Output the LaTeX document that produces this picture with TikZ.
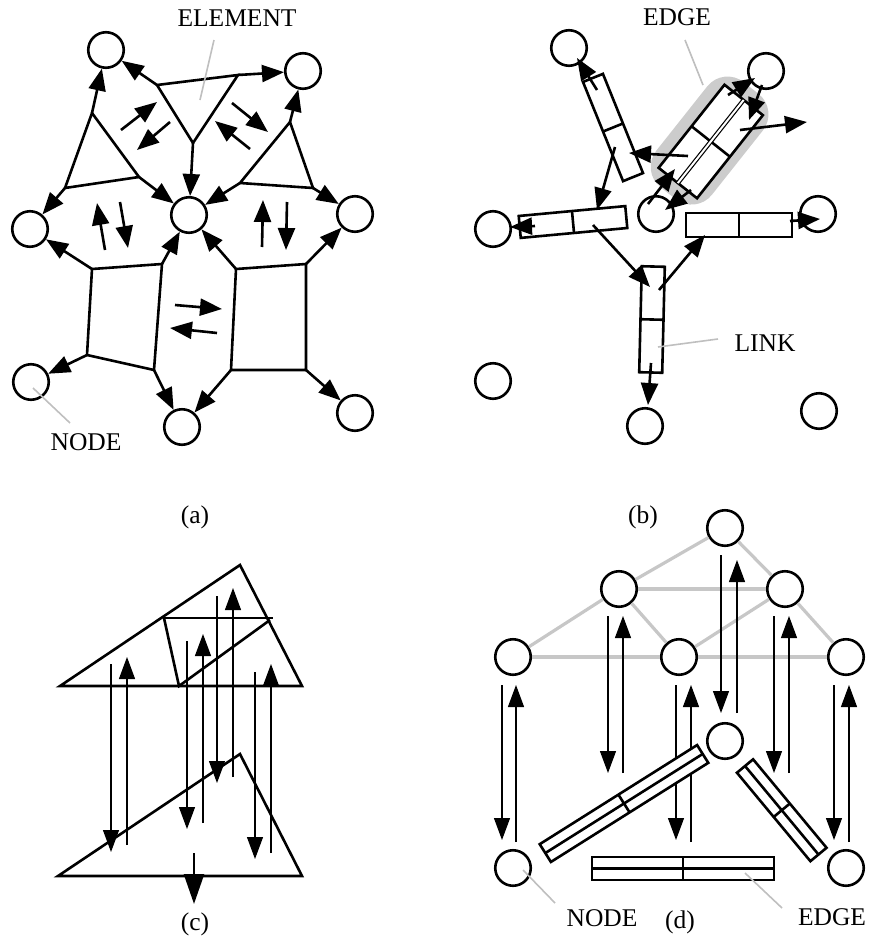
\documentclass[tikz,border=0pt]{standalone}
\usepackage{fontspec}
\setmainfont{Liberation Serif}
\usetikzlibrary{arrows.meta}
\newcommand\linkrect[5]{%
  \begin{scope}[shift={(#1,#2)},rotate=#3]
    \draw[shp,fill=white] (-#4,-#5) rectangle (#4,#5);
    \draw[shp] (0,-#5) -- (0,#5);
  \end{scope}}
\newcommand\edgerect[5]{%
  \begin{scope}[shift={(#1,#2)},rotate=#3]
    \draw[shp,fill=white] (-#4,-#5) rectangle (#4,#5);
    \draw[shp] (0,-#5) -- (0,#5);
    \draw[shp] (-#4,0) -- (#4,0);
  \end{scope}}
\begin{document}
\begin{tikzpicture}[x=1pt,y=-1pt,
  circ/.style={circle,draw,line width=2.6pt,minimum size=35.5pt,inner sep=0pt,fill=white},
  shp/.style={line width=2.6pt},
  arr/.style={line width=2.6pt,-{Triangle[length=22pt,width=17pt]}},
  tarr/.style={line width=1.2pt,-{Triangle[length=22pt,width=16pt]}},
  lead/.style={draw=black!25,line width=1.6pt},
  gline/.style={draw=black!22,line width=3.2pt},
  lbl/.style={font=\fontsize{25.5}{30}\selectfont,inner sep=0pt}]
\useasboundingbox (0,0) rectangle (877,940);

%================ (a) =================
\node[circ] (a1) at (106,50) {};
\node[circ] (a2) at (303,71) {};
\node[circ] (a3) at (30,229) {};
\node[circ] (a4) at (189,215) {};
\node[circ] (a5) at (355,214) {};
\node[circ] (a6) at (31,382) {};
\node[circ] (a7) at (182,427) {};
\node[circ] (a8) at (355,413) {};

\coordinate (t1) at (157,85);  \coordinate (t2) at (238,75);  \coordinate (t3) at (193,143);
\coordinate (l1) at (92,113);  \coordinate (l2) at (65,188);  \coordinate (l3) at (139,177);
\coordinate (r1) at (290,122); \coordinate (r2) at (240,183); \coordinate (r3) at (313,188);
\coordinate (q1) at (92,269);  \coordinate (q2) at (162,264); \coordinate (q3) at (154,370); \coordinate (q4) at (87,355);
\coordinate (p1) at (236,269); \coordinate (p2) at (306,264); \coordinate (p3) at (306,370); \coordinate (p4) at (231,370);

\draw[shp] (t1)--(t2)--(t3)--cycle;
\draw[shp] (l1)--(l2)--(l3)--cycle;
\draw[shp] (r1)--(r2)--(r3)--cycle;
\draw[shp] (q1)--(q2)--(q3)--(q4)--cycle;
\draw[shp] (p1)--(p2)--(p3)--(p4)--cycle;

\draw[arr] (t1)--(a1); \draw[arr] (t2)--(a2); \draw[arr] (t3)--(a4);
\draw[arr] (l1)--(a1); \draw[arr] (l2)--(a3); \draw[arr] (l3)--(a4);
\draw[arr] (r1)--(a2); \draw[arr] (r2)--(a4); \draw[arr] (r3)--(a5);
\draw[arr] (q1)--(a3); \draw[arr] (q2)--(a4); \draw[arr] (q4)--(a6); \draw[arr] (q3)--(a7);
\draw[arr] (p1)--(a4); \draw[arr] (p2)--(a5); \draw[arr] (p4)--(a7); \draw[arr] (p3)--(a8);

\draw[arr] (121,130)--(157,102);
\draw[arr] (170,122)--(137,150);
\draw[arr] (232,103)--(268,132);
\draw[arr] (250,149)--(215,121);
\draw[arr] (105,250)--(97,203);
\draw[arr] (120,202)--(128,248);
\draw[arr] (262,247)--(263,200);
\draw[arr] (287,202)--(286,250);
\draw[arr] (175,305)--(222,309);
\draw[arr] (217,333)--(170,328);

\node[lbl] (elem) at (237,18) {ELEMENT};
\draw[lead] (214,40)--(200,100);
\node[lbl] (nodea) at (86,442) {NODE};
\draw[lead] (33,388)--(70,423);
\node[lbl] (capa) at (195,517) {(a)};

%================ (b) =================
\node[circ] (b1) at (569,48) {};
\node[circ] (b2) at (766,71) {};
\node[circ] (b3) at (493,229) {};
\node[circ] (b4) at (656,214) {};
\node[circ] (b5) at (818,214) {};
\node[circ] (b6) at (493,381) {};
\node[circ] (b7) at (645,426) {};
\node[circ] (b8) at (819,411) {};

\begin{scope}[shift={(710.75,141.5)},rotate=51.6]
  \fill[black!20,rounded corners=26pt] (-67,-37) rectangle (67,34);
  \draw[shp,fill=white] (-53,-24.5) rectangle (53,24.5);
  \draw[shp] (0,-24.5)--(0,24.5);
  \draw[line width=1.2pt,double,double distance=2pt] (-53,0)--(53,0);
\end{scope}
\draw[lead] (685,40)--(703,85);
\node[lbl] (edgeb) at (677,17) {EDGE};

\linkrect{613}{127.5}{112}{53.5}{10.75}
\linkrect{573}{222}{5.3}{53.5}{11}
\linkrect{652}{319.5}{88.6}{53}{11.5}
\linkrect{739}{225}{0}{53}{12}

\draw[arr] (597,90)--(577,58);
\draw[arr] (615,147)--(597,210);
\draw[arr] (535,226)--(510,227);
\draw[arr] (593,225)--(650,287);
\draw[arr] (659,290)--(705,235);
\draw[arr] (651,363)--(648,405);
\draw[arr] (790,221)--(820,219);
\draw[arr] (728,95)--(755,78);
\draw[arr] (762,85)--(749,120);
\draw[arr] (740,130)--(807,122);
\draw[arr] (688,156)--(629,153);
\draw[arr] (648,204)--(675,169);
\draw[arr] (691,190)--(665,210);

\draw[lead] (658,347)--(718,339);
\node[lbl] (linkb) at (765,343) {LINK};
\node[lbl] (capb) at (643,517) {(b)};

%================ (c) =================
\draw[shp] (60,686)--(240,565)--(302,686)--cycle;
\draw[shp] (164,618)--(273,618);
\draw[shp] (164,618)--(179,686)--(270,620);
\draw[shp] (58,876)--(240,754)--(302,876)--cycle;

\draw[tarr] (111,664)--(111,852);
\draw[tarr] (187,641)--(187,829);
\draw[tarr] (217,596)--(217,783);
\draw[tarr] (255,672)--(255,859);
\draw[tarr] (127,845)--(127,657);
\draw[tarr] (203,823)--(203,634);
\draw[tarr] (233,777)--(233,588);
\draw[tarr] (271,853)--(271,664);
\draw[line width=2.8pt,-{Triangle[length=30pt,width=20pt]}] (194,853)--(194,904);
\node[lbl] (capc) at (195,924) {(c)};

%================ (d) =================
\node[circ] (d0) at (725,528) {};
\node[circ] (d1) at (619,589) {};
\node[circ] (d2) at (785,589) {};
\node[circ] (d3) at (513,657) {};
\node[circ] (d4) at (679,657) {};
\node[circ] (d5) at (846,657) {};
\node[circ] (d6) at (725,741) {};
\node[circ] (d7) at (513,868) {};
\node[circ] (d8) at (846,868) {};

\draw[gline] (d0)--(d1); \draw[gline] (d0)--(d2); \draw[gline] (d1)--(d2);
\draw[gline] (d1)--(d3); \draw[gline] (d1)--(d4); \draw[gline] (d2)--(d4);
\draw[gline] (d2)--(d5); \draw[gline] (d3)--(d4); \draw[gline] (d4)--(d5);

\draw[tarr] (502,685)--(502,840); \draw[tarr] (516,842)--(516,685);
\draw[tarr] (608,616)--(608,773); \draw[tarr] (623,773)--(623,616);
\draw[tarr] (676,685)--(676,840); \draw[tarr] (691,842)--(691,685);
\draw[tarr] (721,555)--(721,713); \draw[tarr] (737,713)--(737,560);
\draw[tarr] (774,616)--(774,773); \draw[tarr] (789,773)--(789,616);
\draw[tarr] (834,685)--(834,840); \draw[tarr] (849,842)--(849,685);

\edgerect{624}{803.5}{32.2}{93}{10.5}
\edgerect{781.75}{810.25}{129.7}{57.5}{10.5}
\edgerect{683}{868.5}{0}{91}{11.5}

\draw[lead] (523,870)--(555,903);
\draw[lead] (745,873)--(782,908);
\node[lbl] (noded) at (602,918) {NODE};
\node[lbl] (capd) at (680,922) {(d)};
\node[lbl] (edged) at (832,917) {EDGE};
\end{tikzpicture}
\end{document}
